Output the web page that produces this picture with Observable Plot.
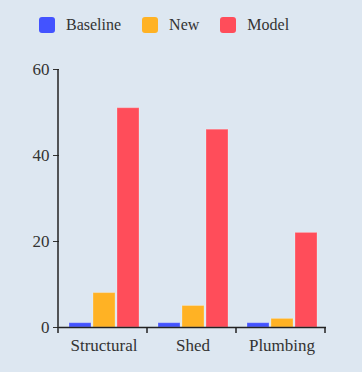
<!DOCTYPE html>
<html>
<head>
<meta charset="utf-8">
<script src="https://cdn.jsdelivr.net/npm/d3@7"></script>
<script src="https://cdn.jsdelivr.net/npm/@observablehq/plot@0.6"></script>
<style>
  html, body { margin: 0; padding: 0; background: #dde7f1; }
  body { width: 362px; height: 372px; overflow: hidden; font-family: "Liberation Serif", "DejaVu Serif", serif; color: #333; }
  #legend { display: flex; align-items: center; height: 50px; padding-left: 39px; box-sizing: border-box; font-size: 16px; }
  .item { display: flex; align-items: center; margin-right: 21px; }
  .sw { width: 16px; height: 16px; border-radius: 3px; margin-right: 11px; }
  #chart svg text { font-family: "Liberation Serif", "DejaVu Serif", serif; }
</style>
</head>
<body>
<div id="legend"></div>
<div id="chart"></div>
<script>
const categories = ["Structural", "Shed", "Plumbing"];
const series = ["Baseline", "New", "Model"];
const colors = ["#4353ff", "#ffb224", "#ff4d5a"];
const baselineValues = [1, 1, 1];
const newValues = [8, 5, 2];
const modelValues = [51, 46, 22];
const yTicks = [0, 20, 40, 60];

const valuesBySeries = [baselineValues, newValues, modelValues];
const data = [];
categories.forEach((c, i) => series.forEach((s, j) => data.push({category: c, series: s, value: valuesBySeries[j][i]})));

const legend = document.getElementById("legend");
series.forEach((s, j) => {
  const it = document.createElement("div");
  it.className = "item";
  it.innerHTML = `<div class="sw" style="background:${colors[j]}"></div><span>${s}</span>`;
  legend.appendChild(it);
});

const plot = Plot.plot({
  width: 362,
  height: 322,
  marginLeft: 58,
  marginRight: 35,
  marginTop: 19,
  marginBottom: 45,
  style: {background: "transparent", fontFamily: "'Liberation Serif', 'DejaVu Serif', serif", fontSize: "17px", color: "#333"},
  fx: {domain: categories, padding: 0, label: null},
  x: {domain: series, paddingInner: 0.1, paddingOuter: 0.35, axis: null},
  y: {domain: [0, 60], label: null},
  color: {domain: series, range: colors},
  marks: [
    Plot.barY(data, {fx: "category", x: "series", y: "value", fill: "series", stroke: "white", strokeOpacity: 0.25, strokeWidth: 1}),
    Plot.axisY({ticks: yTicks, tickSize: 6, tickPadding: 4, label: null, fontSize: 17}),
    Plot.axisFx({anchor: "bottom", tickSize: 0, tickPadding: 11, label: null, fontSize: 17}),
    Plot.ruleY([0], {stroke: "#222", strokeWidth: 1.5})
  ]
});
document.getElementById("chart").appendChild(plot);

// axis line and boundary ticks derived from the plot's own scales
const fx = plot.scale("fx");
const y = plot.scale("y");
const svg = d3.select(plot);
const x0 = fx.range[0];
const y0 = y.apply(0), yTop = y.apply(yTicks[yTicks.length - 1]);
const g = svg.append("g").attr("stroke", "#222").attr("stroke-width", 1.5);
g.append("line").attr("x1", x0).attr("x2", x0).attr("y1", yTop).attr("y2", y0);
const bounds = d3.range(categories.length + 1).map(i => x0 + i * fx.step);
g.selectAll("line.b").data(bounds).join("line").attr("class", "b")
  .attr("x1", d => d).attr("x2", d => d).attr("y1", y0).attr("y2", y0 + 6);
</script>
</body>
</html>
